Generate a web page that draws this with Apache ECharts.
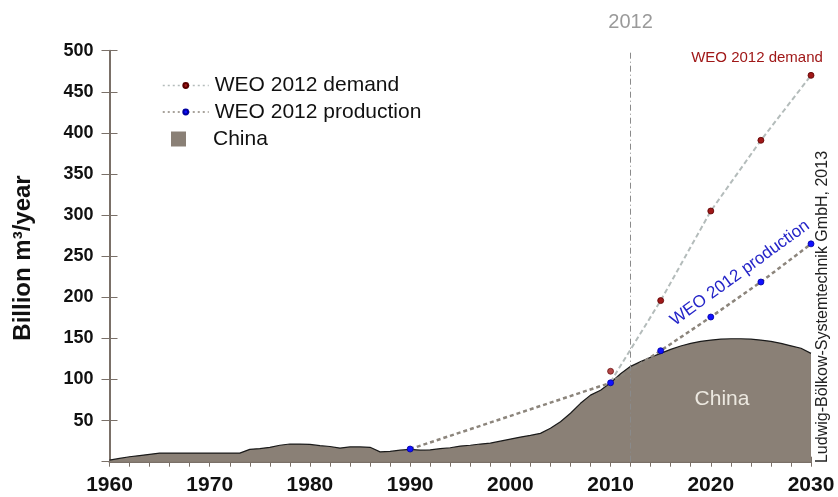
<!DOCTYPE html>
<html><head><meta charset="utf-8">
<script src="https://cdn.jsdelivr.net/npm/echarts@6/dist/echarts.min.js"></script>
<style>html,body{margin:0;padding:0;background:#fff}#c{width:838px;height:497px}</style>
</head><body><div id="c"></div>
<script>
const years = [1960,1961,1962,1963,1964,1965,1966,1967,1968,1969,
  1970,1971,1972,1973,1974,1975,1976,1977,1978,1979,
  1980,1981,1982,1983,1984,1985,1986,1987,1988,1989,
  1990,1991,1992,1993,1994,1995,1996,1997,1998,1999,
  2000,2001,2002,2003,2004,2005,2006,2007,2008,2009,
  2010,2011,2012,2013,2014,2015,2016,2017,2018,2019,
  2020,2021,2022,2023,2024,2025,2026,2027,2028,2029,2030];
const chinaValues = [2,4,6,7.5,9,10.5,10.5,10.5,10.5,10.5,
  10.5,10.5,10.5,10.5,15,16,17.5,20,21.5,21.5,
  21,19.5,18.5,16.6,18,18,17.5,12,12.5,14,
  15,14,14.5,15.8,17,19,20,21.5,22.5,25,
  27.5,30,32,34.5,40.6,48.7,59,71,81,87,
  96,107,116,121.7,127,131.8,136.7,140.7,144,146.4,
  148,149,149.6,149.6,149,148,146.4,144,141,138,131.8];
const demandYears = [2010,2015,2020,2025,2030];
const demandValues = [97,196,305,391,470];
const demandMarkYears = [2010];
const demandMarkValues = [110];
const productionYears = [1990,2010,2015,2020,2025,2030];
const productionValues = [15.4,96,135,176,218.6,265];
const markYear = 2012;
const xMin = 1960, xMax = 2030, yMin = 0, yMax = 500;

const FONT = 'Liberation Sans, Arial, sans-serif';
const axisColor = '#7a7068';

const chinaData = years.map((y,i)=>[y, chinaValues[i]]);
const demandData = demandYears.map((y,i)=> i===0 ? {value:[y, demandValues[i]], symbol:'none'} : [y, demandValues[i]]);
const demandMarkData = demandMarkYears.map((y,i)=>[y, demandMarkValues[i]]);
const productionData = productionYears.map((y,i)=>[y, productionValues[i]]);

const chart = echarts.init(document.getElementById('c'), null, {renderer:'canvas'});
chart.setOption({
  animation:false,
  backgroundColor:'#fff',
  grid:{left:109.5, right:27, top:50.7, bottom:35.3},
  legend:[{
    orient:'vertical', left:157, top:70, itemWidth:46, itemHeight:6, itemGap:5.5,
    textStyle:{fontFamily:FONT, fontSize:21, color:'#111', lineHeight:21, padding:[0,0,0,1]},
    lineStyle:{width:1.5, type:[2,3]},
    data:[{name:'WEO 2012 demand'},{name:'WEO 2012 production'}]
  },{
    orient:'vertical', left:166, top:123.5, itemWidth:15, itemHeight:15,
    textStyle:{fontFamily:FONT, fontSize:21, color:'#111', lineHeight:21, padding:[0,0,0,22]},
    data:[{name:'China', icon:'path://M0 0H10V10H0Z', itemStyle:{color:'#8a8076', borderWidth:0}}]
  }],
  xAxis:[{
    type:'value', min:xMin, max:xMax, interval:2, position:'bottom',
    axisLine:{show:true, onZero:false, lineStyle:{color:axisColor, width:2}},
    axisTick:{show:true, inside:false, length:5, lineStyle:{color:axisColor, width:1}},
    axisLabel:{margin:13, fontFamily:FONT, fontSize:21, fontWeight:'bold', color:'#111',
      formatter:v => (v % 10 === 0 ? String(v) : '')},
    splitLine:{show:false}
  },{
    type:'value', min:xMin, max:xMax, interval:2, position:'bottom',
    axisLine:{show:false}, axisLabel:{show:false}, splitLine:{show:false},
    axisTick:{show:true, inside:true, length:5, lineStyle:{color:axisColor, width:1}}
  }],
  yAxis:[{
    type:'value', min:yMin, max:yMax, interval:50, position:'left',
    axisLine:{show:true, onZero:false, lineStyle:{color:axisColor, width:2}},
    axisTick:{show:true, inside:false, length:8, lineStyle:{color:axisColor, width:1}},
    axisLabel:{margin:16, fontFamily:FONT, fontSize:18, fontWeight:'bold', color:'#111',
      formatter:v => (v === 0 ? '' : String(v))},
    splitLine:{show:false}
  },{
    type:'value', min:yMin, max:yMax, interval:50, position:'left',
    axisLine:{show:false}, axisLabel:{show:false}, splitLine:{show:false},
    axisTick:{show:true, inside:true, length:8, lineStyle:{color:axisColor, width:1}}
  }],
  series:[
    {
      name:'China', type:'line', data:chinaData, symbol:'none', clip:false, z:1,
      lineStyle:{color:'#1a1a1a', width:1.2},
      itemStyle:{color:'#8a8076'},
      areaStyle:{color:'#8a8076', opacity:1},
      markLine:{
        silent:true, symbol:'none',
        lineStyle:{color:'#8a8a8a', width:1, type:[6,3,1,3]},
        label:{show:true, position:'end', distance:18, formatter:String(markYear),
          fontFamily:FONT, fontSize:20, color:'#9a9a9a'},
        data:[{xAxis:markYear}]
      }
    },
    {
      name:'WEO 2012 production', type:'line', data:productionData, z:3,
      symbol:'circle', symbolSize:6,
      lineStyle:{color:'#8c857c', width:2.5, type:[4,3]},
      itemStyle:{color:'#1010ff', borderColor:'#0000a0', borderWidth:0.8}
    },
    {
      name:'WEO 2012 demand', type:'line', data:demandData, z:3,
      symbol:'circle', symbolSize:6,
      lineStyle:{color:'#b4bcbb', width:2, type:[5,3]},
      itemStyle:{color:'#a01818', borderColor:'#5a0000', borderWidth:0.8}
    },
    {
      name:'demand2010', type:'scatter', data:demandMarkData, z:4,
      symbol:'circle', symbolSize:6,
      itemStyle:{color:'#a01818', borderColor:'#5a0000', borderWidth:0.8}
    }
  ],
  graphic:[
    {type:'text', x:23, y:258, rotation:Math.PI/2,
      style:{text:'Billion m³/year', font:'bold 24px '+FONT, fill:'#111', align:'center', verticalAlign:'middle'}},
    {type:'text', x:757, y:58,
      style:{text:'WEO 2012 demand', font:'15px '+FONT, fill:'#a01818', align:'center', verticalAlign:'middle'}},
    {type:'text', x:740, y:273, rotation:0.628,
      style:{text:'WEO 2012 production', font:'17px '+FONT, fill:'#2424c8', align:'center', verticalAlign:'middle'}},
    {type:'text', x:823, y:307, rotation:Math.PI/2,
      style:{text:'Ludwig-Bölkow-Systemtechnik GmbH, 2013', font:'16px '+FONT, fill:'#222', align:'center', verticalAlign:'middle'}},
    {type:'text', x:722, y:399, z:10,
      style:{text:'China', font:'21px '+FONT, fill:'#ece8e0', align:'center', verticalAlign:'middle'}}
  ]
});
</script></body></html>
